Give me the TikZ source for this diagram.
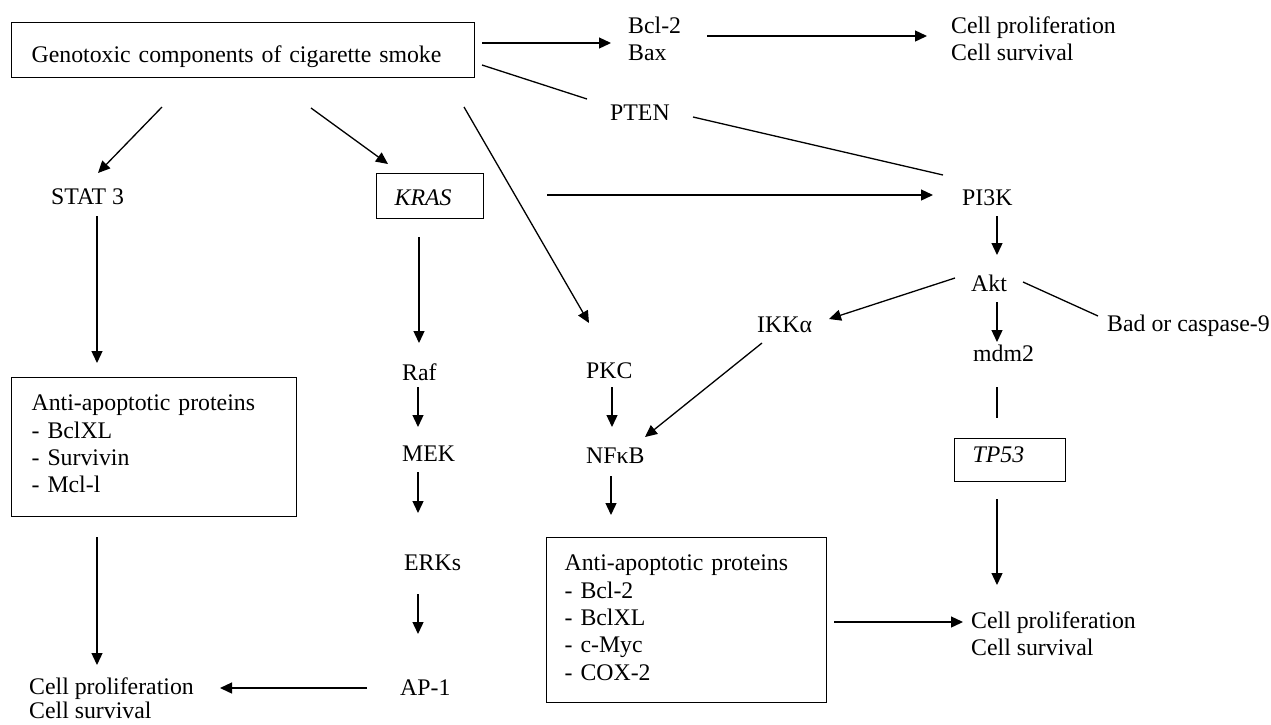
\documentclass[tikz,border=0pt]{standalone}
\usepackage{fontspec}
\setmainfont{Liberation Serif}
\usetikzlibrary{arrows.meta}
\newcommand{\lines}[1]{\begin{tabular}[t]{@{}l@{}}#1\end{tabular}}
\begin{document}
\begin{tikzpicture}[x=1pt,y=-1pt,
  lbl/.style={anchor=base west, inner sep=0pt, font=\fontsize{23.8}{27.4}\selectfont},
  boxed/.style={draw, line width=1.3pt, anchor=north west, inner ysep=0pt, align=left, font=\fontsize{23.8}{27.4}\selectfont},
  arr/.style={line width=1.3pt, -{Triangle[length=12pt,width=11pt]}},
  ln/.style={line width=1.3pt}]
\useasboundingbox (0,0) rectangle (1271,724);

% boxes
\node[boxed, minimum width=463pt, minimum height=55pt, inner xsep=20pt, text width=423pt, text height=25pt, text depth=0pt] (main) at (11,22) {Genotoxic components of cigarette smoke};
\node[boxed, minimum width=107pt, minimum height=45pt, inner xsep=18pt, text width=71pt, text height=19pt, text depth=0pt] (kras) at (376,173) {\textit{KRAS}};
\node[boxed, minimum width=111pt, minimum height=43pt, inner xsep=18pt, text width=75pt, text height=5pt, text depth=0pt] (tp53) at (954,438) {\textit{TP53}};
\node[boxed, minimum width=285pt, minimum height=139pt, inner xsep=20pt, text width=245pt, text height=0pt, text depth=73pt] (box1) at (11,377) {\lines{Anti-apoptotic proteins\\- BclXL\\- Survivin\\- Mcl-l}};
\node[boxed, minimum width=280pt, minimum height=165pt, inner xsep=18pt, text width=244pt, text height=0pt, text depth=99pt] (box2) at (546,537) {\lines{Anti-apoptotic proteins\\- Bcl-2\\- BclXL\\- c-Myc\\- COX-2}};

% labels
\node[lbl] (bcl) at (628,33) {\lines{Bcl-2\\Bax}};
\node[lbl] (cellA) at (951,33) {\lines{Cell proliferation\\Cell survival}};
\node[lbl] (pten) at (610,120) {PTEN};
\node[lbl] (stat) at (51,204) {STAT 3};
\node[lbl] (pi3k) at (962,205) {PI3K};
\node[lbl] (akt) at (971,291) {Akt};
\node[lbl] (ikk) at (757,332) {IKKα};
\node[lbl] (bad) at (1107,331) {Bad or caspase-9};
\node[lbl] (raf) at (402,380) {Raf};
\node[lbl] (pkc) at (586,378) {PKC};
\node[lbl] (mdm) at (973,361) {mdm2};
\node[lbl] (mek) at (402,461) {MEK};
\node[lbl] (nfkb) at (586,463) {NFκB};
\node[lbl] (erk) at (404,570) {ERKs};
\node[lbl] (ap1) at (400,695) {AP-1};
\node[lbl] (cellB) at (29,694) {\lines{Cell proliferation\\[-3pt]Cell survival}};
\node[lbl] (cellC) at (971,628) {\lines{Cell proliferation\\Cell survival}};

% connector end points
\coordinate (m-bcl) at (482,43);   \coordinate (bcl-in) at (611,43);
\coordinate (bcl-out) at (707,36); \coordinate (cellA-in) at (927,36);
\coordinate (m-pten) at (482,65);  \coordinate (pten-in) at (587,99);
\coordinate (pten-out) at (693,117); \coordinate (pi3k-top) at (943,175);
\coordinate (m-stat) at (162,107); \coordinate (stat-in) at (98,173);
\coordinate (m-kras) at (311,108); \coordinate (kras-in) at (388,164);
\coordinate (m-pkc) at (464,107);  \coordinate (pkc-in) at (589,323);
\coordinate (kras-r) at (547,195); \coordinate (pi3k-in) at (933,195);
\coordinate (stat-out) at (97,216); \coordinate (box1-in) at (97,363);
\coordinate (kras-out) at (419,237); \coordinate (raf-in) at (419,343);
\coordinate (raf-out) at (418,387); \coordinate (mek-in) at (418,427);
\coordinate (mek-out) at (418,472); \coordinate (erk-in) at (418,513);
\coordinate (erk-out) at (418,594); \coordinate (ap1-in) at (418,634);
\coordinate (ap1-out) at (367,688); \coordinate (cellB-r) at (220,688);
\coordinate (box1-out) at (97,537); \coordinate (cellB-top) at (97,665);
\coordinate (pkc-out) at (612,387); \coordinate (nfkb-in) at (612,427);
\coordinate (nfkb-out) at (611,476); \coordinate (box2-in) at (611,515);
\coordinate (box2-out) at (834,622); \coordinate (cellC-in) at (963,622);
\coordinate (pi3k-out) at (997,216); \coordinate (akt-in) at (997,255);
\coordinate (akt-l) at (955,278);  \coordinate (ikk-in) at (829,319);
\coordinate (akt-r) at (1023,282); \coordinate (bad-in) at (1098,316);
\coordinate (akt-out) at (997,302); \coordinate (mdm-in) at (997,342);
\coordinate (mdm-out) at (997,387); \coordinate (tp53-in) at (997,418);
\coordinate (tp53-out) at (997,499); \coordinate (cellC-top) at (997,585);
\coordinate (ikk-out) at (762,343); \coordinate (nfkb-r) at (645,437);

% connectors
\draw[arr] (m-bcl) -- (bcl-in);
\draw[arr] (bcl-out) -- (cellA-in);
\draw[ln] (m-pten) -- (pten-in);
\draw[ln] (pten-out) -- (pi3k-top);
\draw[arr] (m-stat) -- (stat-in);
\draw[arr] (m-kras) -- (kras-in);
\draw[arr] (m-pkc) -- (pkc-in);
\draw[arr] (kras-r) -- (pi3k-in);
\draw[arr] (stat-out) -- (box1-in);
\draw[arr] (kras-out) -- (raf-in);
\draw[arr] (raf-out) -- (mek-in);
\draw[arr] (mek-out) -- (erk-in);
\draw[arr] (erk-out) -- (ap1-in);
\draw[arr] (ap1-out) -- (cellB-r);
\draw[arr] (box1-out) -- (cellB-top);
\draw[arr] (pkc-out) -- (nfkb-in);
\draw[arr] (nfkb-out) -- (box2-in);
\draw[arr] (box2-out) -- (cellC-in);
\draw[arr] (pi3k-out) -- (akt-in);
\draw[arr] (akt-l) -- (ikk-in);
\draw[ln] (akt-r) -- (bad-in);
\draw[arr] (akt-out) -- (mdm-in);
\draw[ln] (mdm-out) -- (tp53-in);
\draw[arr] (tp53-out) -- (cellC-top);
\draw[arr] (ikk-out) -- (nfkb-r);
\end{tikzpicture}
\end{document}
